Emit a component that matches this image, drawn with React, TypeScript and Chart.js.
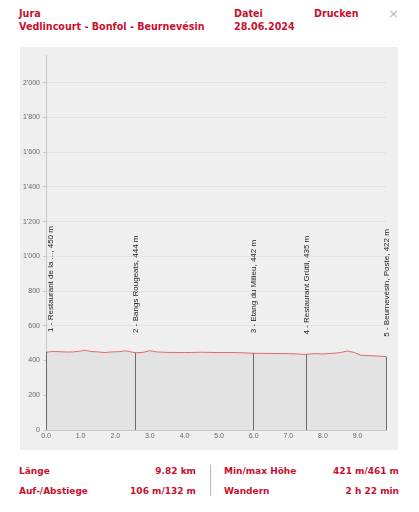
import React, { useEffect, useRef } from "react";
import { Chart, registerables } from "chart.js";

Chart.register(...registerables);

const distancesKm = [0, 0.2, 0.4, 0.6, 0.8, 1.0, 1.1, 1.3, 1.5, 1.7, 1.9, 2.1, 2.3, 2.45, 2.6, 2.8, 3.0, 3.2, 3.5, 4.0, 4.5, 5.0, 5.5, 6.0, 6.5, 7.0, 7.5, 7.8, 8.0, 8.3, 8.5, 8.7, 8.9, 9.1, 9.5, 9.82];
const elevationsM = [448, 452, 451, 449, 450, 455, 460, 452, 450, 446, 450, 451, 456, 450, 445, 447, 457, 450, 447, 446, 448, 446, 446, 442, 441, 440, 436, 440, 438, 442, 446, 455, 447, 430, 427, 423];

const markerKm = [0, 2.58, 5.97, 7.52, 9.82];
const markerElev = [450, 444, 442, 435, 422];
const markerLabels = [
  "1 - Restaurant de la ..., 450 m",
  "2 - Bangs Rougeats, 444 m",
  "3 - Etang du Milieu, 442 m",
  "4 - Restaurant Grütli, 435 m",
  "5 - Beurnevésin, Poste, 422 m",
];

const yTicks = [0, 200, 400, 600, 800, 1000, 1200, 1400, 1600, 1800, 2000];
const xTicks = [0, 1, 2, 3, 4, 5, 6, 7, 8, 9];

const RED = "#c8102e";

const markerPlugin = {
  id: "markers",
  afterDatasetsDraw(chart: any) {
    const { ctx, scales, chartArea } = chart;
    const xs = scales.x;
    const ys = scales.y;
    ctx.save();
    markerKm.forEach((km, i) => {
      const px = Math.round(xs.getPixelForValue(km)) + 0.5;
      const py = ys.getPixelForValue(markerElev[i]);
      ctx.strokeStyle = "#6a6a6a";
      ctx.lineWidth = 1;
      ctx.beginPath();
      ctx.moveTo(px, chartArea.bottom);
      ctx.lineTo(px, py);
      ctx.stroke();
      const tx = Math.max(px, chartArea.left + 5);
      ctx.save();
      ctx.translate(tx, py - 20);
      ctx.rotate(-Math.PI / 2);
      ctx.font = "8px 'Liberation Sans', Arial, sans-serif";
      ctx.fillStyle = "#222";
      ctx.textAlign = "left";
      ctx.textBaseline = "middle";
      ctx.fillText(markerLabels[i], 0, 0);
      ctx.restore();
    });
    ctx.restore();
  },
};

function fmtThousands(v: number) {
  const s = String(Math.round(v));
  return s.replace(/\B(?=(\d{3})+(?!\d))/g, "'");
}

function ProfileChart() {
  const ref = useRef<HTMLCanvasElement | null>(null);
  useEffect(() => {
    if (!ref.current) return;
    const chart = new Chart(ref.current, {
      type: "line",
      data: {
        datasets: [
          {
            data: distancesKm.map((d, i) => ({ x: d, y: elevationsM[i] })),
            borderColor: "#e46a6a",
            borderWidth: 1,
            backgroundColor: "#e3e3e3",
            fill: "origin",
            pointRadius: 0,
            tension: 0,
          },
        ],
      },
      options: {
        animation: false,
        responsive: false,
        maintainAspectRatio: false,
        layout: { padding: { top: 8, right: 12, left: 0, bottom: 0 } },
        plugins: { legend: { display: false }, tooltip: { enabled: false } },
        scales: {
          x: {
            type: "linear",
            min: 0,
            max: 9.82,
            afterBuildTicks: (s: any) => {
              s.ticks = xTicks.map((v) => ({ value: v }));
            },
            afterFit: (s: any) => {
              s.height = 20;
            },
            ticks: {
              font: { family: "'Liberation Sans', Arial, sans-serif", size: 7 },
              color: "#666",
              padding: 2,
              maxRotation: 0,
              callback: (v: any) => Number(v).toFixed(1),
            },
            grid: { display: false, drawTicks: false },
            border: { display: true, color: "#c8c8c8" },
          },
          y: {
            type: "linear",
            min: 0,
            max: 2160,
            afterBuildTicks: (s: any) => {
              s.ticks = yTicks.map((v) => ({ value: v }));
            },
            afterFit: (s: any) => {
              s.width = 26;
            },
            ticks: {
              font: { family: "'Liberation Sans', Arial, sans-serif", size: 7 },
              color: "#666",
              padding: 3,
              callback: (v: any) => fmtThousands(Number(v)),
            },
            grid: { color: "#e2e2e2", tickLength: 3, tickColor: "#c8c8c8" },
            border: { display: true, color: "#c8c8c8" },
          },
        },
      },
      plugins: [markerPlugin],
    });
    return () => chart.destroy();
  }, []);
  return (
    <canvas
      ref={ref}
      width={378}
      height={403}
      style={{ position: "absolute", left: 20, top: 47, width: 378, height: 403, background: "#efefef" }}
    />
  );
}

const txt = (left: number, cy: number, text: string, extra: any = {}) => (
  <div
    style={{
      position: "absolute",
      left,
      top: cy - 7,
      height: 14,
      lineHeight: "14px",
      fontFamily: "'DejaVu Sans', Verdana, sans-serif",
      fontWeight: "bold",
      fontSize: 9,
      color: RED,
      whiteSpace: "nowrap",
      ...extra,
    }}
  >
    {text}
  </div>
);

const txtR = (right: number, cy: number, text: string) => (
  <div
    style={{
      position: "absolute",
      right: 419 - right,
      top: cy - 7,
      height: 14,
      lineHeight: "14px",
      fontFamily: "'DejaVu Sans', Verdana, sans-serif",
      fontWeight: "bold",
      fontSize: 9,
      color: RED,
      whiteSpace: "nowrap",
      textAlign: "right",
    }}
  >
    {text}
  </div>
);

const H = { fontSize: 9.6 };

export default function App() {
  return (
    <div style={{ position: "fixed", left: 0, top: 0, width: 419, height: 512, background: "#fff", overflow: "hidden" }}>
      {txt(19, 14, "Jura", H)}
      {txt(19, 27, "Vedlincourt - Bonfol - Beurnevésin", H)}
      {txt(234, 14, "Datei", H)}
      {txt(234, 27, "28.06.2024", H)}
      {txt(314, 14, "Drucken", H)}
      {txt(388, 14, "×", { color: "#b8b8b8", fontWeight: "normal", fontSize: 13 })}
      <div style={{ position: "absolute", left: 20, top: 47, width: 378, height: 1, background: "#e4e4e4" }} />
      <ProfileChart />
      {txt(19, 471, "Länge")}
      {txtR(196, 471, "9.82 km")}
      {txt(19, 491, "Auf-/Abstiege")}
      {txtR(196, 491, "106 m/132 m")}
      <div style={{ position: "absolute", left: 210, top: 465, width: 1, height: 31, background: "#d4a8a8" }} />
      {txt(224, 471, "Min/max Höhe")}
      {txtR(399, 471, "421 m/461 m")}
      {txt(224, 491, "Wandern")}
      {txtR(399, 491, "2 h 22 min")}
    </div>
  );
}
